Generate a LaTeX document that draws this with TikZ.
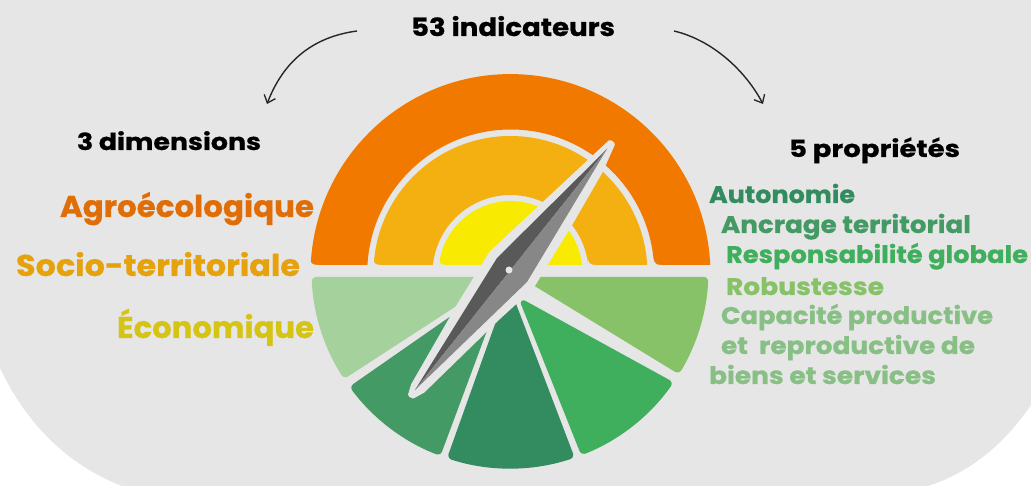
\documentclass[tikz,border=0pt]{standalone}
\usepackage{graphicx}
\usepackage{fontspec}
\setmainfont{Poppins}[BoldFont={* Bold},BoldFeatures={FakeBold=0.7}]
\usetikzlibrary{arrows.meta,calc}
\definecolor{bg}{HTML}{E6E6E6}
\definecolor{cOr}{HTML}{F27900}
\definecolor{cGo}{HTML}{F4B010}
\definecolor{cYe}{HTML}{F8EA00}
\definecolor{wA}{HTML}{A5D19D}
\definecolor{wB}{HTML}{449A64}
\definecolor{wC}{HTML}{338B60}
\definecolor{wD}{HTML}{3FAF5E}
\definecolor{wE}{HTML}{87C168}
\definecolor{tAg}{HTML}{E06D05}
\definecolor{tSo}{HTML}{E6A20C}
\definecolor{tEc}{HTML}{D6C414}
\definecolor{tGr}{HTML}{88BF85}
\newcommand{\fitw}[3]{\resizebox{#1pt}{\height}{\fontsize{#2}{#2}\selectfont\bfseries #3}}
\tikzset{
  lbl/.style={inner sep=0pt,outer sep=0pt,anchor=base west},
  wedge/.style={fill=#1,draw=#1,line width=4pt,line join=round,rounded corners=2.5pt},
  curvearrow/.style={draw=black!85,line width=1.4pt,-{Straight Barb[length=7pt,width=12pt,line width=1.3pt]}}
}
\begin{document}
\begin{tikzpicture}[x=1pt,y=1pt]
\useasboundingbox (0,0) rectangle (1031,486);
% background panel
\fill[bg] (0,486) -- (1031,486) -- (1031,81) .. controls (1000,36) and (965,12) .. (928,0)
  -- (122,0) .. controls (65,22) and (25,65) .. (0,118) -- cycle;
% upper half rings (centre 510.5,213 / 212; cut y=221)
\fill[cOr] (310.7,221) arc[start angle=177.4,end angle=2.6,radius=200pt] -- (654,221) arc[start angle=3.2,end angle=176.8,radius=143.5pt] -- cycle;
\fill[cGo] (373.7,221) arc[start angle=176.65,end angle=3.35,radius=137pt] -- (588.1,221) arc[start angle=5.9,end angle=174.1,radius=78pt] -- cycle;
\fill[cYe] (439,221) arc[start angle=173.6,end angle=6.4,radius=72pt] -- cycle;
% rounded ring corners, cut out in the background colour
\fill[bg] (309.5,228) .. controls (310.4,223) and (312,221) .. (318,221) -- (309.5,221) -- cycle;
\fill[bg] (653.6,228) .. controls (654,223) and (656,221) .. (661,221) -- (653,221) -- cycle;
\fill[bg] (373,228) .. controls (373.6,223) and (375,221) .. (381,221) -- (373,221) -- cycle;
\fill[bg] (587.6,228) .. controls (588.4,223) and (590,221) .. (596,221) -- (587.5,221) -- cycle;
\fill[bg] (438.5,228) .. controls (439.3,223) and (441,221) .. (446,221) -- (438.5,221) -- cycle;
% lower wedges (centre 510,216)
\path[wedge=wA] (494.3,207) -- (313.7,207) arc[start angle=182.6,end angle=212.7,radius=196.5pt] -- cycle;
\path[wedge=wB] (502.8,203.6) -- ($(510,216)+(216.6:196.5)$) arc[start angle=216.6,end angle=248.9,radius=196.5pt] -- cycle;
\path[wedge=wC] (509,195) -- ($(510,216)+(252.1:196.5)$) arc[start angle=252.1,end angle=288.4,radius=196.5pt] -- cycle;
\path[wedge=wD] (522,184.7) -- ($(510,216)+(291.6:196.5)$) arc[start angle=291.6,end angle=324.9,radius=196.5pt] -- cycle;
\path[wedge=wE] (527,207) -- ($(510,216)+(328.9:196.5)$) arc[start angle=328.9,end angle=357.4,radius=196.5pt] -- cycle;
% needle
\fill[bg,draw=bg,line width=4pt,line join=round] (610,344) -- (491,233) -- (459,181) -- (413,101) -- (410,91) -- (413,89.5) -- (423,95) -- (497,167) -- (532,199) -- (571,263) -- (601,315) -- (613,342) -- cycle;
\fill[black!65] (607,337) -- (497,228) -- (415,96) -- cycle;
\fill[black!47] (607,337) -- (527,204) -- (415,96) -- cycle;
\node[circle,fill=bg,minimum size=7pt,inner sep=0pt] (pivot) at (509,216) {};
% texts
\node[lbl] (t53) at (411,450) {\fitw{204}{25}{53 indicateurs}};
\node[lbl] (t3d) at (77,336) {\fitw{184}{23.5}{3 dimensions}};
\node[lbl] (t5p) at (789,329) {\fitw{171}{23.5}{5 propriétés}};
\node[lbl,text=tAg] (tAgro) at (60,269) {\fitw{254}{30}{Agroécologique}};
\node[lbl,text=tSo] (tSoc) at (16,210) {\fitw{284}{30}{Socio-territoriale}};
\node[lbl,text=tEc] (tEco) at (117,148) {\fitw{197}{30}{Économique}};
\node[lbl,text=wC] (tAu) at (709,283) {\fitw{146}{24}{Autonomie}};
\node[lbl,text=wB] (tAn) at (721,253) {\fitw{250}{24}{Ancrage territorial}};
\node[lbl,text=wD] (tRe) at (726,223) {\fitw{302}{24}{Responsabilité globale}};
\node[lbl,text=wE] (tRo) at (726,191) {\fitw{158}{24}{Robustesse}};
\node[lbl,text=tGr] (tCa) at (721,162) {\fitw{272}{24}{Capacité productive}};
\node[lbl,text=tGr] (tEt) at (721,132) {\fitw{254}{24}{et\ \ reproductive de}};
\node[lbl,text=tGr] (tBi) at (709,102) {\fitw{227}{24}{biens et services}};
% arrows
\coordinate (aL) at (357,455);
\coordinate (aLe) at (267,382);
\coordinate (aR) at (674,455);
\coordinate (aRe) at (763,382);
\draw[curvearrow] (aL) .. controls (312,449) and (283,424) .. (aLe);
\draw[curvearrow] (aR) .. controls (712,446) and (745,416) .. (aRe);
\end{tikzpicture}
\end{document}
